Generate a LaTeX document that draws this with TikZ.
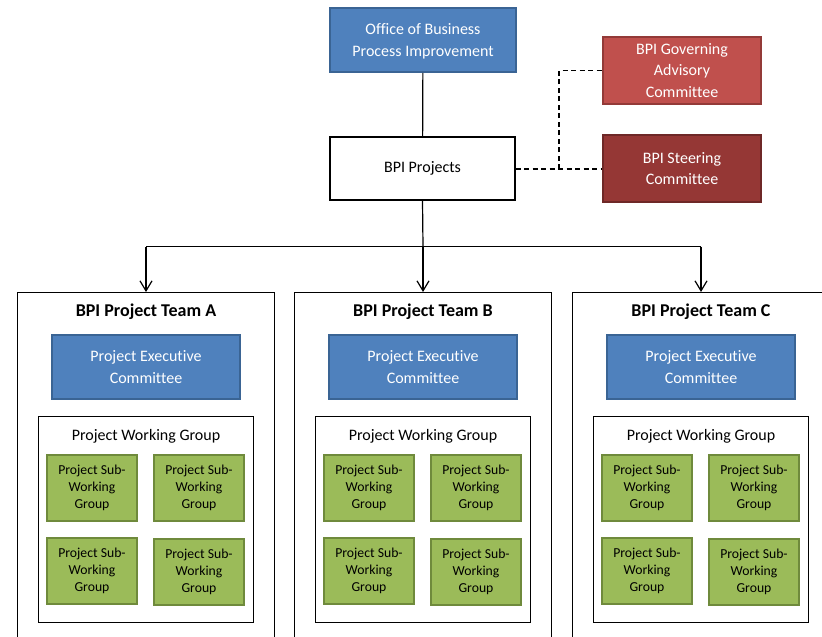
\documentclass[tikz,border=0pt]{standalone}
\usepackage{fontspec}
\setmainfont[Ligatures=NoCommon]{Carlito}
\usetikzlibrary{arrows.meta}

\definecolor{bluefill}{HTML}{4F81BD}
\definecolor{blueline}{HTML}{3A6494}
\definecolor{redfill}{HTML}{C0504D}
\definecolor{redline}{HTML}{933A38}
\definecolor{darkredfill}{HTML}{953735}
\definecolor{darkredline}{HTML}{6E2827}
\definecolor{greenfill}{HTML}{9BBB59}
\definecolor{greenline}{HTML}{6F8A3C}

\tikzset{
  box/.style={rectangle, minimum width=#1, inner sep=2pt, align=center},
  bluebox/.style={box=#1, fill=bluefill, draw=blueline, line width=1.8pt,
    text=white, font=\fontsize{16}{21.7}\selectfont},
  redbox/.style={box=#1, fill=redfill, draw=redline, line width=1.8pt,
    text=white, font=\fontsize{16}{21.7}\selectfont},
  darkredbox/.style={box=#1, fill=darkredfill, draw=darkredline, line width=1.8pt,
    text=white, font=\fontsize{16}{21.7}\selectfont},
  plainbox/.style={box=#1, fill=white, draw=black, line width=1.2pt,
    font=\fontsize{16}{21.7}\selectfont},
  frame/.style={rectangle, draw=black, line width=1pt, fill=white, inner sep=0pt},
  subbox/.style={box=90pt, minimum height=66pt, fill=greenfill, draw=greenline,
    line width=1.8pt, text=black, font=\fontsize{13.7}{17.2}\selectfont},
  teamtitle/.style={font=\fontsize{18}{21}\selectfont\bfseries},
  grouptitle/.style={font=\fontsize{16}{19}\selectfont},
  link/.style={line width=1.2pt, draw=black},
  dashlink/.style={line width=1.2pt, draw=black, dash pattern=on 5pt off 3.5pt},
  arrowlink/.style={link, -{Straight Barb[length=10pt,width=12pt,line width=1.2pt]}},
}

\begin{document}
\begin{tikzpicture}[x=1pt, y=-1pt]
  \useasboundingbox (0,0) rectangle (822,637);
  \begin{scope}
  \clip (0,0) rectangle (822,637);

  % top of the chart
  \node[bluebox=186pt, minimum height=64pt, text depth=0pt] (office) at (423,40)
    {Office of Business\\Process Improvement};
  \node[plainbox=185pt, minimum height=63pt] (projects) at (422.5,168.5) {BPI Projects};
  \node[redbox=158pt, minimum height=67pt] (governing) at (682,70.5)
    {BPI Governing\\Advisory\\Committee};
  \node[darkredbox=158pt, minimum height=67pt] (steering) at (682,168.5)
    {BPI Steering\\Committee};

  \draw[link] (office) -- (projects);
  \coordinate (dashturn) at (559,169);
  \draw[dashlink] (projects.east |- dashturn) -- (dashturn) -- (steering.west |- dashturn);
  \draw[dashlink] (dashturn) |- (governing.west);

  % the three project teams
  \foreach \cx/\tag/\letter in {146/a/A, 423/b/B, 701/c/C} {
    \node[frame, minimum width=257pt, minimum height=380pt, anchor=north]
      (team\tag) at (\cx,292) {};
    \node[teamtitle] (title\tag) at (\cx,311.5) {BPI Project Team \letter};
    \node[bluebox=188pt, minimum height=64pt] (exec\tag) at (\cx,367)
      {Project Executive\\Committee};
    \node[frame, minimum width=215pt, minimum height=206pt] (wg\tag) at (\cx-0.5,519) {};
    \node[grouptitle] (wgtitle\tag) at (\cx,436) {Project Working Group};
    \node[subbox] (subA\tag) at (\cx-54,488) {Project Sub-\\Working\\Group};
    \node[subbox] (subB\tag) at (\cx+53,488) {Project Sub-\\Working\\Group};
    \node[subbox] (subC\tag) at (\cx-54,571) {Project Sub-\\Working\\Group};
    \node[subbox] (subD\tag) at (\cx+53,572) {Project Sub-\\Working\\Group};
  }

  % connectors from BPI Projects down to the teams
  \coordinate (branch) at (423,246.5);
  \draw[link] (projects.south) -- (branch);
  \draw[link] (teama.north |- branch) -- (teamc.north |- branch);
  \draw[arrowlink] (teama.north |- branch) -- (teama.north);
  \draw[arrowlink] (branch) -- (teamb.north);
  \draw[arrowlink] (teamc.north |- branch) -- (teamc.north);
  \end{scope}
\end{tikzpicture}
\end{document}
